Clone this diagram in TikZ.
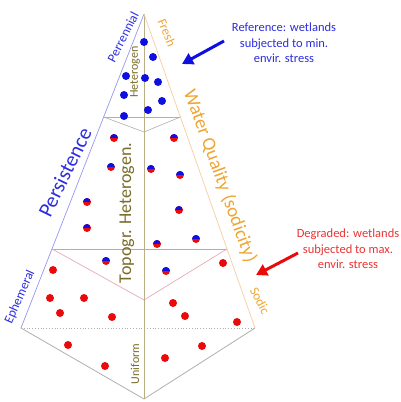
\documentclass[tikz,border=0pt]{standalone}
\usepackage{fontspec}
\setmainfont{Carlito}
\usetikzlibrary{arrows.meta,calc}
\definecolor{txtblue}{RGB}{45,45,225}
\definecolor{txtorange}{RGB}{238,165,50}
\definecolor{txtolive}{RGB}{120,108,40}
\definecolor{txtred}{RGB}{235,50,50}
\definecolor{edgeblue}{RGB}{150,150,240}
\definecolor{edgeorange}{RGB}{245,205,160}
\definecolor{edgeolive}{RGB}{185,175,135}
\definecolor{edgegrey}{RGB}{175,175,175}
\definecolor{edgepink}{RGB}{230,160,170}
\definecolor{dotblue}{RGB}{15,15,225}
\definecolor{dotred}{RGB}{235,10,10}
\tikzset{
  bdot/.style={circle,fill=dotblue,minimum size=8pt,inner sep=0pt},
  rdot/.style={circle,fill=dotred,minimum size=8pt,inner sep=0pt},
  hdot/.style={circle,fill=dotred,minimum size=8pt,inner sep=0pt,
    path picture={\fill[dotblue] (path picture bounding box.north west) rectangle (path picture bounding box.east);}},
  lbl/.style={inner sep=0pt,font=\fontsize{#1}{#1}\selectfont},
  callout/.style={inner sep=0pt,align=center,font=\fontsize{12.5}{15.5}\selectfont},
  bigarrow/.style={line width=3pt,-{Triangle[length=11pt,width=12pt]}}
}
\begin{document}
\begin{tikzpicture}[x=1pt,y=-1pt]
\useasboundingbox (0,0) rectangle (400,402);
% frame points
\coordinate (A) at (144,14);
\coordinate (L) at (21,328);
\coordinate (R) at (255,328);
\coordinate (B) at (144,399);
\coordinate (U1) at ($(A)!0.328!(L)$);
\coordinate (U2) at ($(A)!0.328!(R)$);
\coordinate (Uv) at (144,132);
\coordinate (M1) at ($(A)!0.748!(L)$);
\coordinate (M2) at ($(A)!0.748!(R)$);
\coordinate (Mv) at (144,300);
% bands
\draw[edgegrey,line width=0.6pt] (U1) -- (U2);
\draw[edgegrey,line width=0.6pt] (U1) -- (Uv) -- (U2);
\draw[edgegrey,line width=0.6pt] (M1) -- (M2);
\draw[edgepink,line width=0.6pt] (M1) -- (Mv) -- (M2);
\draw[edgegrey,line width=0.8pt,dotted] (L) -- (R);
\draw[edgegrey,line width=0.8pt] (L) -- (B) -- (R);
\draw[edgeolive,line width=0.7pt] (A) -- (B);
\draw[edgeblue,line width=0.7pt] (A) -- (L);
\draw[edgeorange,line width=0.7pt] (A) -- (R);
% top blue dots
\node[bdot] (b1) at (144,42) {};
\node[bdot] (b2) at (153,57) {};
\node[bdot] (b3) at (126,76) {};
\node[bdot] (b4) at (145,78) {};
\node[bdot] (b5) at (158,82) {};
\node[bdot] (b6) at (124,95) {};
\node[bdot] (b7) at (162,101) {};
\node[bdot] (b8) at (148,110) {};
\node[bdot] (b9) at (124,116) {};
% middle half dots
\node[hdot] (h1) at (114,138) {};
\node[hdot] (h2) at (174,138) {};
\node[hdot] (h3) at (111,167) {};
\node[hdot] (h4) at (151,169) {};
\node[hdot] (h5) at (180,175) {};
\node[hdot] (h6) at (87,202) {};
\node[hdot] (h7) at (179,210) {};
\node[hdot] (h8) at (87,228) {};
\node[hdot] (h9) at (157,244) {};
\node[hdot] (h10) at (196,239) {};
\node[hdot] (h11) at (106,261) {};
\node[hdot] (h12) at (166,271) {};
% red dots
\node[rdot] (r1) at (53,270) {};
\node[rdot] (r2) at (223,263) {};
\node[rdot] (r3) at (50,298) {};
\node[rdot] (r4) at (84,298) {};
\node[rdot] (r5) at (173,303) {};
\node[rdot] (r6) at (60,313) {};
\node[rdot] (r7) at (112,317) {};
\node[rdot] (r8) at (185,316) {};
\node[rdot] (r9) at (237,322) {};
\node[rdot] (r10) at (68,345) {};
\node[rdot] (r11) at (202,346) {};
\node[rdot] (r12) at (165,358) {};
\node[rdot] (r13) at (105,366) {};
% labels
\node[lbl=13,text=txtblue,rotate=63] (perr) at (123,37) {Perrennial};
\node[lbl=12,text=txtolive,rotate=90] (het) at (135,72) {Heterogen};
\node[lbl=13,text=txtorange,rotate=-68] (fresh) at (167,33) {Fresh};
\node[lbl=21,text=txtblue,rotate=64] (pers) at (65,172) {Persistence};
\node[lbl=19,text=txtorange,rotate=-70] (wq) at (220,176) {Water Quality (sodicity)};
\node[lbl=18,text=txtolive,rotate=90] (topo) at (127,213) {Topogr. Heterogen.};
\node[lbl=13,text=txtblue,rotate=66] (eph) at (20,297) {Ephemeral};
\node[lbl=13,text=txtorange,rotate=-63] (sodic) at (260,301) {Sodic};
\node[lbl=12,text=txtolive,rotate=90] (unif) at (135,364) {Uniform};
% callouts
\node[callout,text=txtblue] (ref) at (284,43) {Reference: wetlands\\subjected to min.\\envir. stress};
\node[callout,text=txtred] (deg) at (348,249) {Degraded: wetlands\\subjected to max.\\envir. stress};
\coordinate (refS) at (224,41);
\coordinate (refE) at (182,64);
\coordinate (degS) at (298,253);
\coordinate (degE) at (256,275);
\draw[bigarrow,dotblue] (refS) -- (refE);
\draw[bigarrow,dotred] (degS) -- (degE);
\end{tikzpicture}
\end{document}
